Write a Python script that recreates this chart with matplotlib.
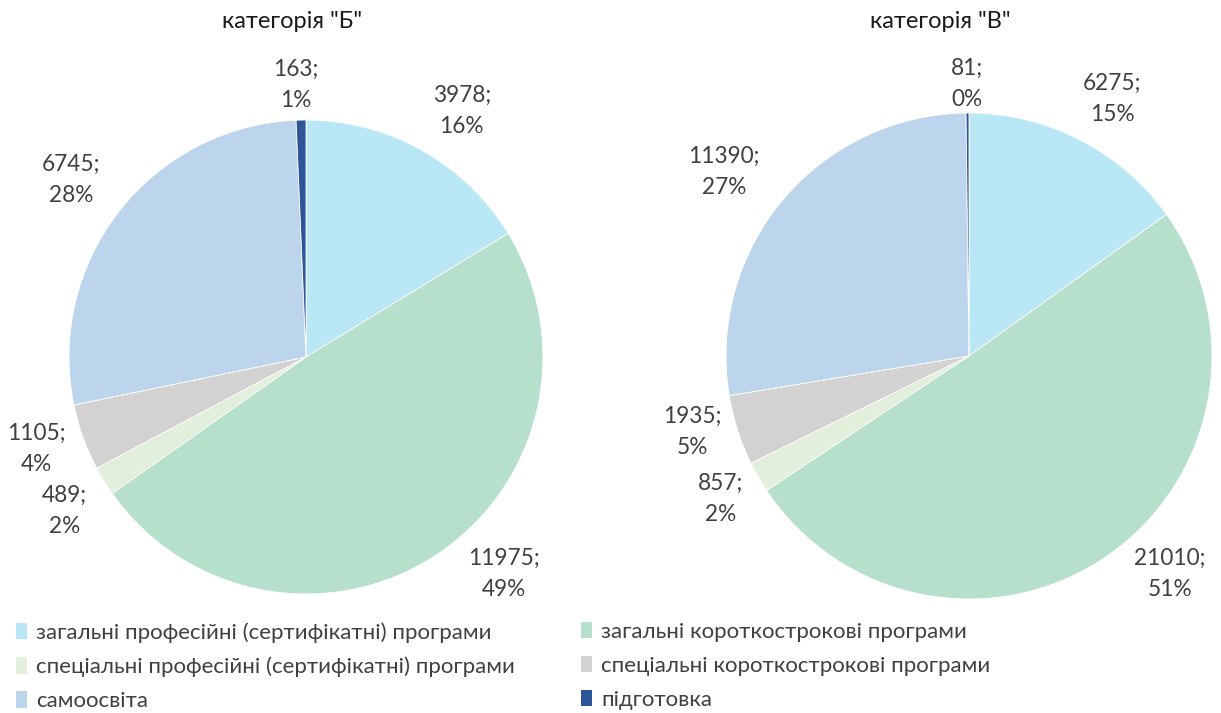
import numpy as np
import matplotlib
matplotlib.use("Agg")
import matplotlib.pyplot as plt
from matplotlib.patches import Patch

plt.rcParams['font.family'] = ['Lato', 'DejaVu Sans']

categories = [
    "загальні професійні (сертифікатні) програми",
    "загальні короткострокові програми",
    "спеціальні професійні (сертифікатні) програми",
    "спеціальні короткострокові програми",
    "самоосвіта",
    "підготовка",
]
values_b = [3978, 11975, 489, 1105, 6745, 163]
pct_b = [16, 49, 2, 4, 28, 1]
values_v = [6275, 21010, 857, 1935, 11390, 81]
pct_v = [15, 51, 2, 5, 27, 0]
titles = ['категорія "Б"', 'категорія "В"']

colors = ["#B9E7F6", "#B7E0CC", "#E1EFDB", "#D4D1D3", "#BDD5EC", "#2E5597"]
text_color = "#404040"

fig = plt.figure(figsize=(12.21, 7.13), dpi=100)
W, H = 1221, 713

# label layout: (radius factor, angle shift in degrees)
layout_b = [(1.23, -3), (1.24, 9), (1.21, 1), (1.20, -1), (1.24, 1), (1.15, 1)]
layout_v = [(1.21, -2), (1.22, 8), (1.18, 0), (1.18, -2.5), (1.26, 3), (1.12, 0)]

FS = 16.3

def draw_pie(cx, cy, r, vals, pcts, title, layout, title_x):
    ax = fig.add_axes([(cx - r) / W, (H - cy - r) / H, 2 * r / W, 2 * r / H])
    wedges, _ = ax.pie(vals, colors=colors, startangle=90, counterclock=False,
                       wedgeprops=dict(edgecolor="white", linewidth=0.6))
    ax.set_xlim(-1, 1)
    ax.set_ylim(-1, 1)
    ax.set_aspect("equal")
    ax.axis("off")
    for w, v, p, (rf, dang) in zip(wedges, vals, pcts, layout):
        ang = np.deg2rad((w.theta1 + w.theta2) / 2 + dang)
        ax.text(rf * np.cos(ang), rf * np.sin(ang), f"{v};\n{p}%",
                ha="center", va="center", fontsize=FS, color=text_color,
                linespacing=1.6, clip_on=False)
    fig.text(title_x / W, 1 - 22 / H, title, ha="center", va="center",
             fontsize=17, color="#1a1a1a")

draw_pie(306, 357, 237, values_b, pct_b, titles[0], layout_b, 292)
draw_pie(969, 356, 243, values_v, pct_v, titles[1], layout_v, 940)

handles = [Patch(facecolor=c, edgecolor="none") for c in colors]
for col, x0 in ((0, 16), (1, 581)):
    idx = [col, col + 2, col + 4]
    leg = fig.legend([handles[i] for i in idx], [categories[i] for i in idx],
                     ncol=1, loc="upper left", bbox_to_anchor=(x0 / W, 1 - 622 / H),
                     frameon=False, fontsize=16, handlelength=0.5, handleheight=0.75,
                     handletextpad=0.4, labelspacing=0.63,
                     borderaxespad=0, borderpad=0)
    for t in leg.get_texts():
        t.set_color(text_color)

fig.savefig("out.png", dpi=100)
